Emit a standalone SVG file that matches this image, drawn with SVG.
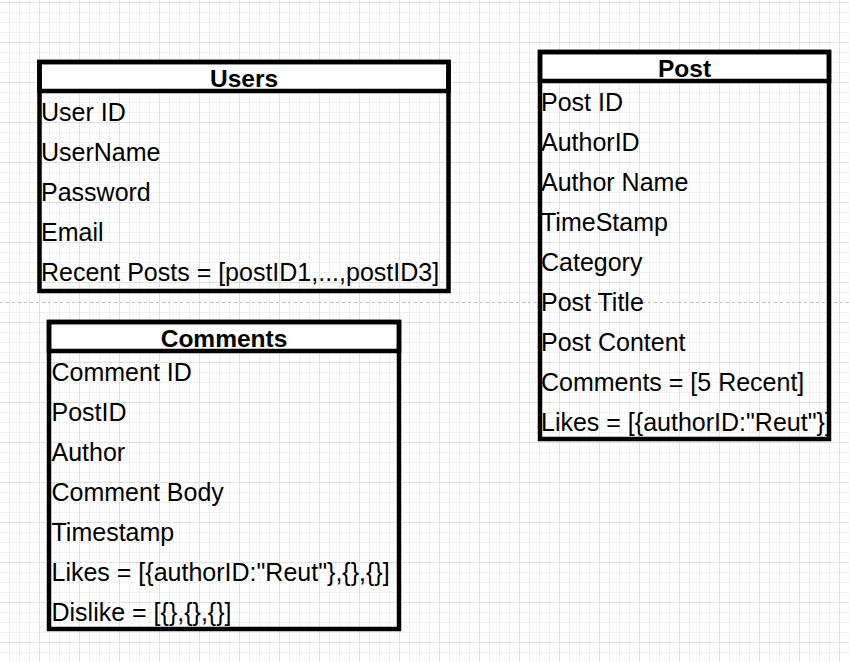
<svg xmlns="http://www.w3.org/2000/svg" width="849" height="662" viewBox="0 0 849 662">
<defs>
<pattern id="grid" patternUnits="userSpaceOnUse" x="39" y="42" width="40" height="40">
<path d="M10.5 0V40M20.5 0V40M30.5 0V40M0 10.5H40M0 20.5H40M0 30.5H40" stroke="#f0f0f0" stroke-width="1" fill="none"/>
<path d="M0.5 0V40M0 0.5H40" stroke="#e0e0e0" stroke-width="1" fill="none"/>
</pattern>
<clipPath id="clipPost"><rect x="540" y="52" width="289" height="387"/></clipPath>
</defs>
<style>
.box{fill:none;stroke:#000;stroke-width:4.5}
.head{fill:#fff;stroke:#000;stroke-width:4.5}
.title{font-family:"Liberation Sans",Arial,sans-serif;font-weight:bold;font-size:24.5px;fill:#000;text-anchor:middle}
.row{font-family:"Liberation Sans",Arial,sans-serif;font-size:25px;fill:#000}
</style>
<rect width="849" height="662" fill="#fff"/>
<rect width="849" height="662" fill="url(#grid)"/>
<line x1="0" y1="302.5" x2="849" y2="302.5" stroke="#c4c4c4" stroke-width="1" stroke-dasharray="3 3"/>

<g id="users">
<rect class="head" x="39.5" y="62" width="409" height="29"/>
<rect class="box" x="39.5" y="62" width="409" height="229"/>
<text class="title" x="244" y="86.5">Users</text>
<text class="row" x="41" y="121">User ID</text>
<text class="row" x="41" y="161">UserName</text>
<text class="row" x="41" y="201">Password</text>
<text class="row" x="41" y="241">Email</text>
<text class="row" x="41" y="281">Recent Posts = [postID1,...,postID3]</text>
</g>

<g id="post">
<rect class="head" x="540" y="52" width="289" height="29"/>
<g clip-path="url(#clipPost)">
<text class="row" x="541" y="111">Post ID</text>
<text class="row" x="541" y="151">AuthorID</text>
<text class="row" x="541" y="191">Author Name</text>
<text class="row" x="541" y="231">TimeStamp</text>
<text class="row" x="541" y="271">Category</text>
<text class="row" x="541" y="311">Post Title</text>
<text class="row" x="541" y="351">Post Content</text>
<text class="row" x="541" y="391">Comments = [5 Recent]</text>
<text class="row" x="541" y="431">Likes = [{authorID:"Reut"}]</text>
</g>
<rect class="box" x="540" y="52" width="289" height="387"/>
<text class="title" x="684.5" y="76.5">Post</text>
</g>

<g id="comments">
<rect class="head" x="49" y="322" width="350" height="29"/>
<rect class="box" x="49" y="322" width="350" height="307"/>
<text class="title" x="224" y="346.5">Comments</text>
<text class="row" x="51.5" y="381">Comment ID</text>
<text class="row" x="51.5" y="421">PostID</text>
<text class="row" x="51.5" y="461">Author</text>
<text class="row" x="51.5" y="501">Comment Body</text>
<text class="row" x="51.5" y="541">Timestamp</text>
<text class="row" x="51.5" y="581">Likes = [{authorID:"Reut"},{},{}]</text>
<text class="row" x="51.5" y="621">Dislike = [{},{},{}]</text>
</g>
</svg>
